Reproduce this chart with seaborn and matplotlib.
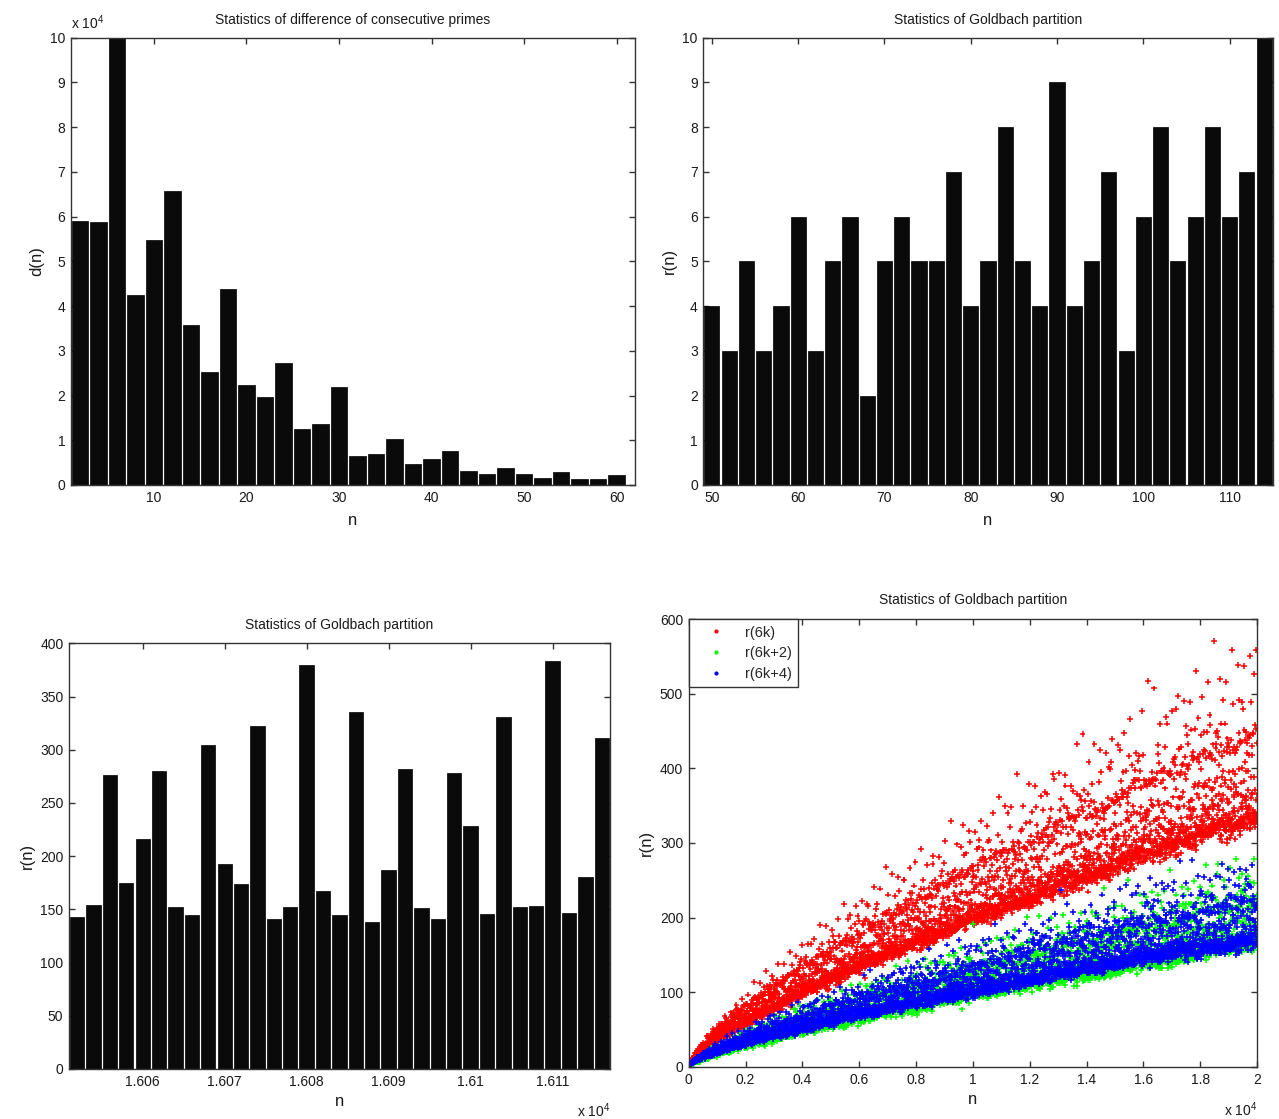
import numpy as np
import pandas as pd
import matplotlib
matplotlib.use("Agg")
import matplotlib.pyplot as plt
from matplotlib.lines import Line2D
import seaborn as sns

# prime gap counts d(n), in units of 10^4
gap_n = list(range(2, 62, 2))
gap_count = [5.91, 5.88, 9.999, 4.25, 5.47, 6.58, 3.57, 2.53, 4.39, 2.23,
             1.97, 2.73, 1.25, 1.36, 2.20, 0.65, 0.69, 1.03, 0.48, 0.57,
             0.75, 0.31, 0.25, 0.39, 0.25, 0.16, 0.28, 0.14, 0.14, 0.22]

# Goldbach partition counts r(n) for small n
small_n = list(range(50, 116, 2))
small_r = [4, 3, 5, 3, 4, 6, 3, 5, 6, 2, 5, 6, 5, 5, 7, 4, 5, 8, 5, 4, 9,
           4, 5, 7, 3, 6, 8, 5, 6, 8, 6, 7, 10]

# r(n) around n = 16000
big_n = list(range(16052, 16118, 2))
big_r = [143, 154, 276, 175, 216, 280, 152, 145, 304, 193, 174, 322, 141,
         152, 380, 167, 145, 335, 138, 187, 282, 151, 141, 278, 228, 146,
         331, 152, 153, 383, 147, 180, 311]

# scatter panel: r(n) for every even n up to 20000, split by n mod 6
# (thousands of points -> counted from a prime sieve instead of read by eye)
N_MAX = 20000
class_labels = ["r(6k)", "r(6k+2)", "r(6k+4)"]
class_colors = ["#ff0000", "#00ff00", "#0000ff"]

sieve = np.ones(N_MAX + 1, dtype=bool)
sieve[:2] = False
for i in range(2, int(N_MAX ** 0.5) + 1):
    if sieve[i]:
        sieve[i * i::i] = False
isp = sieve.astype(np.int64)
ordered = np.convolve(isp, isp)[:N_MAX + 1]
even_n = np.arange(4, N_MAX + 1, 2)
r_even = (ordered[even_n] + isp[even_n // 2]) // 2
gold_df = pd.DataFrame({"n": even_n, "r": r_even, "k": (even_n % 6) // 2})
gold_df["cls"] = [class_labels[k] for k in gold_df["k"]]
# matlab drew the three series one after another -> blue ends up on top
gold_df = gold_df.sort_values("k", kind="stable")

sns.set_theme(style="ticks")
plt.rcParams["font.family"] = ["Liberation Sans", "DejaVu Sans"]
plt.rcParams["mathtext.fontset"] = "custom"
plt.rcParams["mathtext.rm"] = "Liberation Sans"
plt.rcParams["font.size"] = 10
txt = "#1a1a1a"

fig = plt.figure(figsize=(12.79, 11.19), dpi=100)
ax1 = fig.add_axes([0.0553, 0.5666, 0.4412, 0.3997])
ax2 = fig.add_axes([0.5499, 0.5666, 0.4452, 0.3997])
ax3 = fig.add_axes([0.0539, 0.0447, 0.4230, 0.3804])
ax4 = fig.add_axes([0.5385, 0.0465, 0.4443, 0.4003])


def matlab_axes(ax):
    for s in ax.spines.values():
        s.set_visible(True)
        s.set_color("#333333")
        s.set_linewidth(1)
    ax.tick_params(direction="in", top=True, right=True, length=4, width=1,
                   color="#333333", labelsize=10, labelcolor=txt, pad=4)
    ax.set_facecolor("white")


def bars(ax, x, y):
    sns.barplot(x=x, y=y, ax=ax, native_scale=True, width=0.875,
                color="#0a0a0a", saturation=1, errorbar=None,
                edgecolor="black", linewidth=0.5)


# top left
bars(ax1, gap_n, gap_count)
ax1.set_xlim(1, 62)
ax1.set_ylim(0, 10)
ax1.set_xticks(range(10, 61, 10))
ax1.set_yticks(range(0, 11))
ax1.set_title("Statistics of difference of consecutive primes", fontsize=10, color=txt, pad=10)
ax1.set_xlabel("n", color=txt, labelpad=6)
ax1.set_ylabel("d(n)", color=txt)
ax1.text(0.0, 1.012, r"x 10$^4$", transform=ax1.transAxes, ha="left", va="bottom",
         fontsize=10, color=txt)
matlab_axes(ax1)

# top right
bars(ax2, small_n, small_r)
ax2.set_xlim(49, 115)
ax2.set_ylim(0, 10)
ax2.set_xticks(range(50, 111, 10))
ax2.set_yticks(range(0, 11))
ax2.set_title("Statistics of Goldbach partition", fontsize=10, color=txt, pad=10)
ax2.set_xlabel("n", color=txt, labelpad=6)
ax2.set_ylabel("r(n)", color=txt)
matlab_axes(ax2)

# bottom left
bars(ax3, big_n, big_r)
ax3.set_xlim(16051, 16117)
ax3.set_ylim(0, 400)
xt = list(range(16060, 16111, 10))
ax3.set_xticks(xt)
ax3.set_xticklabels([("%g" % (v / 1e4)) for v in xt])
ax3.set_yticks(range(0, 401, 50))
ax3.set_title("Statistics of Goldbach partition", fontsize=10, color=txt, pad=10)
ax3.set_xlabel("n", color=txt)
ax3.set_ylabel("r(n)", color=txt)
ax3.text(1.0, -0.075, r"x 10$^4$", transform=ax3.transAxes, ha="right", va="top",
         fontsize=10, color=txt)
matlab_axes(ax3)

# bottom right
sns.scatterplot(data=gold_df, x="n", y="r", hue="cls", hue_order=class_labels,
                palette=dict(zip(class_labels, class_colors)), marker="+",
                s=18, linewidth=1.1, ax=ax4, legend=False)
ax4.set_xlim(0, 20000)
ax4.set_ylim(0, 600)
xt4 = list(range(0, 20001, 2000))
ax4.set_xticks(xt4)
ax4.set_xticklabels([("%g" % (v / 1e4)) for v in xt4])
ax4.set_yticks(range(0, 601, 100))
ax4.set_title("Statistics of Goldbach partition", fontsize=10, color=txt, pad=11)
ax4.set_xlabel("n", color=txt)
ax4.set_ylabel("r(n)", color=txt)
ax4.text(1.0, -0.075, r"x 10$^4$", transform=ax4.transAxes, ha="right", va="top",
         fontsize=10, color=txt)
handles = [Line2D([], [], linestyle="none", marker=".", markersize=4, color=c)
           for c in class_colors]
leg = ax4.legend(handles, class_labels, loc="upper left", borderaxespad=0,
                 fancybox=False, framealpha=1, edgecolor="#333333", fontsize=10.5,
                 handlelength=2.8, handletextpad=0.6, borderpad=0.45, labelspacing=0.45)
leg.get_frame().set_linewidth(1)
matlab_axes(ax4)

fig.savefig("out.png", dpi=100, facecolor="white")
